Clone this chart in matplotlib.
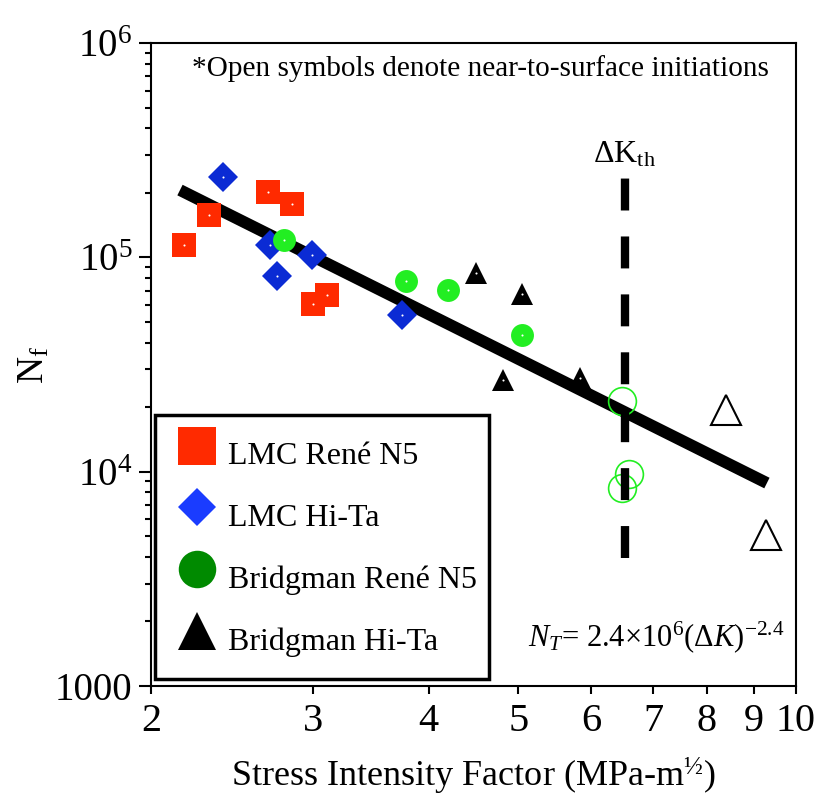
import matplotlib
matplotlib.use('Agg')
import matplotlib.pyplot as plt
from matplotlib.ticker import FixedLocator, NullLocator, FixedFormatter, NullFormatter
from matplotlib.lines import Line2D

plt.rcParams['font.family'] = ['Liberation Serif', 'DejaVu Serif']
plt.rcParams['mathtext.fontset'] = 'custom'
plt.rcParams['mathtext.rm'] = 'Liberation Serif'
plt.rcParams['mathtext.it'] = 'Liberation Serif:italic'
plt.rcParams['mathtext.bf'] = 'Liberation Serif:bold'

# ---- data ----
lmc_rene_k = [2.17, 2.31, 2.68, 2.84, 3.00, 3.10]
lmc_rene_n = [1.14e5, 1.57e5, 2.02e5, 1.77e5, 6.05e4, 6.67e4]
lmc_hita_k = [2.395, 2.69, 2.74, 2.99, 3.74]
lmc_hita_n = [2.36e5, 1.14e5, 8.2e4, 1.03e5, 5.4e4]
bridg_rene_k = [2.79, 3.78, 4.20, 5.05]
bridg_rene_n = [1.2e5, 7.75e4, 7.04e4, 4.35e4]
bridg_rene_open_k = [6.48, 6.60, 6.48]
bridg_rene_open_n = [2.13e4, 9.8e3, 8.4e3]
bridg_hita_k = [4.50, 5.05, 4.81, 5.83]
bridg_hita_n = [8.45e4, 6.74e4, 2.67e4, 2.73e4]
bridg_hita_open_k = [8.40, 9.27]
bridg_hita_open_n = [1.94e4, 5.06e3]
fit_k = [2.15, 9.3]
fit_n = [2.06e5, 8.85e3]
threshold_k = [6.52, 6.52]
threshold_n = [3.95e3, 2.37e5]

series_labels = ['LMC René N5', 'LMC Hi-Ta', 'Bridgman René N5', 'Bridgman Hi-Ta']
x_ticks = [2, 3, 4, 5, 6, 7, 8, 9, 10]
x_tick_labels = ['2', '3', '4', '5', '6', '7', '8', '9', '10']
y_ticks = [1e3, 1e4, 1e5, 1e6]
y_tick_labels = ['1000', r'$10^4$', r'$10^5$', r'$10^6$']

fig = plt.figure(figsize=(8.2, 8.0), dpi=100)
ax = fig.add_axes([151/820, 1-686/800, 645/820, 643/800])
ax.set_xscale('log')
ax.set_yscale('log')
ax.set_xlim(2, 10)
ax.set_ylim(1e3, 1e6)

# fit line
ax.plot(fit_k, fit_n, color='black', lw=8.5, solid_capstyle='butt', zorder=2)

red = '#ff2a00'
blue = '#0b2bd4'
green = '#22ee22'

ax.plot(lmc_rene_k, lmc_rene_n, 's', ms=17, color=red, mew=0, zorder=3)
ax.plot(lmc_hita_k, lmc_hita_n, 'D', ms=15.5, color=blue, mew=0, zorder=3)
ax.plot(bridg_rene_k, bridg_rene_n, 'o', ms=16.5, color=green, mew=0, zorder=3)
ax.plot(bridg_hita_k, bridg_hita_n, '^', ms=16, color='black', mew=0, zorder=3)
ax.plot(bridg_rene_open_k, bridg_rene_open_n, 'o', ms=20, mfc='none', mec=green, mew=1.2, zorder=3)
ax.plot(bridg_hita_open_k, bridg_hita_open_n, '^', ms=21, mfc='none', mec='black', mew=1.5, zorder=3)
# small white centre dots
for kk, nn in [(lmc_rene_k, lmc_rene_n), (lmc_hita_k, lmc_hita_n),
               (bridg_rene_k, bridg_rene_n), (bridg_hita_k, bridg_hita_n)]:
    ax.plot(kk, nn, 'o', ms=1.5, color='white', mew=0, zorder=4)

# threshold dashed line
lw_th = 6
ax.plot(threshold_k, threshold_n, color='black', lw=lw_th,
        dashes=(23/lw_th, 18.7/lw_th), dash_capstyle='butt', zorder=4)

# ticks
ax.xaxis.set_major_locator(FixedLocator(x_ticks))
ax.xaxis.set_major_formatter(FixedFormatter(x_tick_labels))
ax.xaxis.set_minor_locator(NullLocator())
ax.xaxis.set_minor_formatter(NullFormatter())
ax.yaxis.set_major_locator(FixedLocator(y_ticks))
ax.yaxis.set_major_formatter(FixedFormatter(y_tick_labels))
minor_y = [m * 10**e for e in (3, 4, 5) for m in range(2, 10)]
ax.yaxis.set_minor_locator(FixedLocator(minor_y))
ax.yaxis.set_minor_formatter(NullFormatter())
ax.tick_params(axis='both', which='both', direction='out', top=False, right=False, width=1.5)
ax.tick_params(axis='x', which='major', length=6, pad=6, labelsize=29)
ax.tick_params(axis='y', which='major', length=8.5, pad=5, labelsize=28)
ax.tick_params(axis='y', which='minor', length=4)
for s in ax.spines.values():
    s.set_linewidth(1.5)

ax.set_xlabel('Stress Intensity Factor (MPa-m$^{½}$)', fontsize=26, labelpad=12)
ax.set_ylabel(r'N$_\mathregular{f}$', fontsize=27, labelpad=2.5)

ax.text(0.51, 0.961, '*Open symbols denote near-to-surface initiations',
        transform=ax.transAxes, ha='center', va='center', fontsize=21.1)
ax.text(6.52, 3.0e5, r'$\mathregular{\Delta K_{th}}$', ha='center', va='center', fontsize=23)
ax.text(0.783, 0.076, r'$N_T$= 2.4×10$^6$($\Delta K$)$^{-2.4}$',
        transform=ax.transAxes, ha='center', va='center', fontsize=22)

handles = [
    Line2D([], [], ls='none', marker='s', ms=27, color='#ff2a00', mew=0),
    Line2D([], [], ls='none', marker='D', ms=19, color='#1a3cff', mew=0),
    Line2D([], [], ls='none', marker='o', ms=27, color='#008a00', mew=0),
    Line2D([], [], ls='none', marker='^', ms=27, color='black', mew=0),
]
leg = ax.legend(handles, series_labels, loc='upper left', bbox_to_anchor=(0.006, 0.421),
                fontsize=23, frameon=True, fancybox=False, framealpha=1,
                edgecolor='black', borderpad=0.37, labelspacing=0.25,
                handlelength=1.88, handleheight=2.22, handletextpad=0.05,
                borderaxespad=0)
leg.get_frame().set_linewidth(2.5)

fig.savefig('out.png', dpi=100)
